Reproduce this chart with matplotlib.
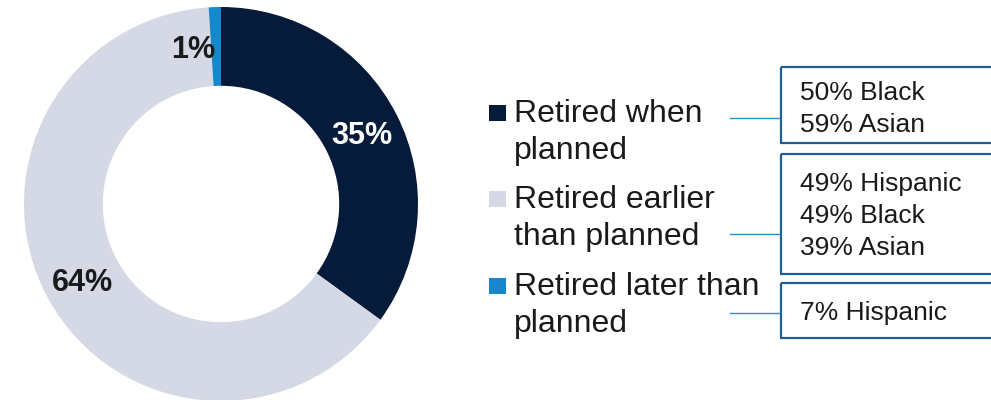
import matplotlib.pyplot as plt
import numpy as np
from matplotlib.patches import Rectangle

plt.rcParams['font.family'] = ['Liberation Sans', 'DejaVu Sans']

categories = ['Retired when\nplanned', 'Retired earlier\nthan planned', 'Retired later than\nplanned']
shares = [35, 64, 1]
colors = ['#061A3A', '#D4D9E5', '#1787CC']
label_colors = ['white', '#1A1A1A', '#1A1A1A']
breakdowns = [['50% Black', '59% Asian'],
              ['49% Hispanic', '49% Black', '39% Asian'],
              ['7% Hispanic']]

W, H = 991, 400
fig = plt.figure(figsize=(W / 100, H / 100), dpi=100)

# donut, centre (221, 204) px, radius 197 px
cx, cy, r = 221, 204, 197
pie_ax = fig.add_axes([(cx - r) / W, (H - cy - r) / H, 2 * r / W, 2 * r / H])
wedges, _ = pie_ax.pie(shares, colors=colors, startangle=90, counterclock=False,
                       radius=1, wedgeprops=dict(width=0.4, linewidth=0))
pie_ax.set_xlim(-1, 1)
pie_ax.set_ylim(-1, 1)
pie_ax.set_aspect('equal')
pie_ax.axis('off')

for w, val, c in zip(wedges, shares, label_colors):
    ang = np.deg2rad((w.theta1 + w.theta2) / 2)
    x, y = 0.8 * np.cos(ang), 0.8 * np.sin(ang)
    if val < 5:
        x, y = -0.14, 0.8  # small slice, label pushed left
    pie_ax.text(x, y, f'{val}%', ha='center', va='center_baseline', fontsize=22,
                fontweight='bold', color=c)

# legend + breakdown boxes in pixel coordinates
ax = fig.add_axes([0, 0, 1, 1])
ax.set_xlim(0, W)
ax.set_ylim(H, 0)
ax.axis('off')

first_baselines = [122, 208, 295]
box_tops = [67, 154, 283]
box_bottoms = [143, 274, 338]
box_text_base = [100, 191.5, 320]
line_ys = [118, 234, 313]

for i, (cat, col) in enumerate(zip(categories, colors)):
    b = first_baselines[i]
    ax.add_patch(Rectangle((489, b - 17.5), 17, 16, color=col, lw=0))
    for j, line in enumerate(cat.split('\n')):
        ax.text(514, b + j * 36.7, line, fontsize=23, va='baseline', ha='left',
                color='#1A1A1A')
    ax.plot([730, 780], [line_ys[i], line_ys[i]], color='#2A8ACB', lw=1)
    ax.add_patch(Rectangle((780.5, box_tops[i]), 230, box_bottoms[i] - box_tops[i],
                           fill=False, ec='#1F5E96', lw=1.6))
    for j, line in enumerate(breakdowns[i]):
        ax.text(800, box_text_base[i] + j * 31.7, line, fontsize=19,
                va='baseline', ha='left', color='#1A1A1A')

fig.savefig('out.png', dpi=100)
